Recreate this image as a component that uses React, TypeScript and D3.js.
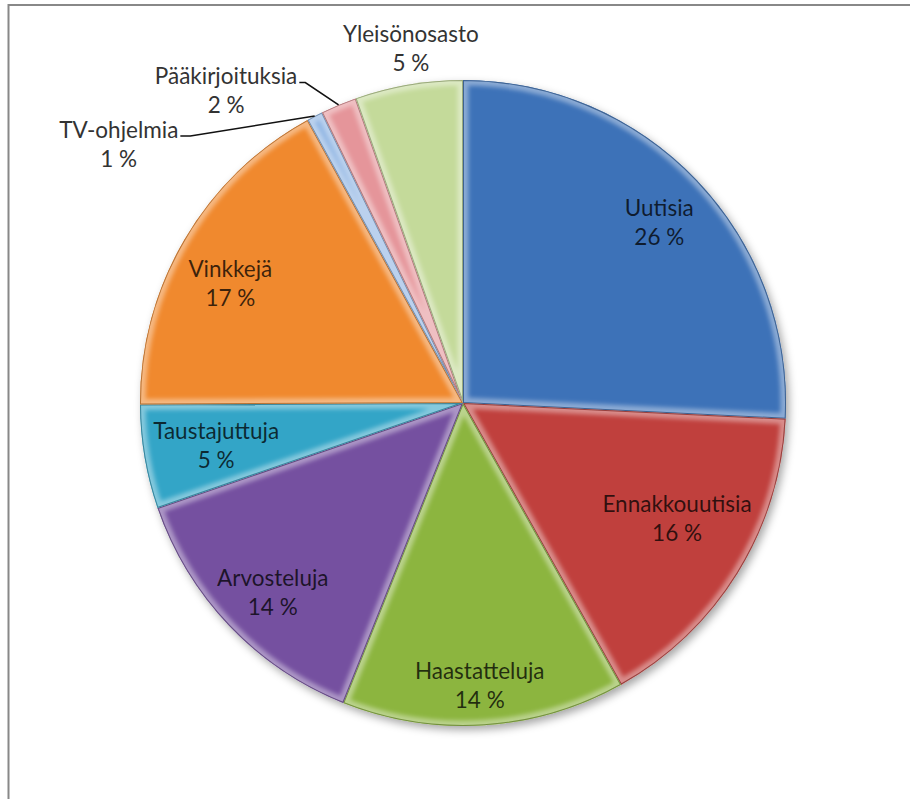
import React, { useEffect, useRef } from "react";
import * as d3 from "d3";

const categories = [
  "Uutisia",
  "Ennakkouutisia",
  "Haastatteluja",
  "Arvosteluja",
  "Taustajuttuja",
  "Vinkkejä",
  "TV-ohjelmia",
  "Pääkirjoituksia",
  "Yleisönosasto",
];
const values = [25.8, 16.1, 14.2, 13.7, 5.2, 17.1, 0.8, 1.8, 5.4];
const colors = [
  "#3d72b8",
  "#c0403d",
  "#8cb53f",
  "#7550a0",
  "#33a5c7",
  "#f0892e",
  "#8db3e2",
  "#e5959a",
  "#c4da9a",
];

// label placement (radius as fraction of pie radius)
const labelPlacement = [
  { inside: true, r: 0.823, da: 1.2 },
  { inside: true, r: 0.755, da: -3.1 },
  { inside: true, r: 0.879, da: 0.4 },
  { inside: true, r: 0.833, da: -1.4 },
  { inside: true, r: 0.776, da: -0.4 },
  { inside: true, r: 0.809, da: -3.4 },
  { inside: false, r: 1.331, a: 306.8, leader: true, hook: 10 },
  { inside: false, r: 1.2105, a: 322.7, leader: true, hook: 6 },
  { inside: false, r: 1.105, a: 351.6, leader: false, hook: 0 },
];

const W = 910;
const H = 799;
const CX = 463;
const CY = 403;
const R = 323;
const FONT = "Lato, 'Open Sans', sans-serif";
const FS = 22.5;

export default function App() {
  const ref = useRef<SVGSVGElement | null>(null);

  useEffect(() => {
    const svg = d3.select(ref.current);
    svg.selectAll("*").remove();

    const defs = svg.append("defs");
    const shadow = defs
      .append("filter")
      .attr("id", "shadow")
      .attr("x", "-20%")
      .attr("y", "-20%")
      .attr("width", "140%")
      .attr("height", "140%");
    shadow
      .append("feDropShadow")
      .attr("dx", 3)
      .attr("dy", 4)
      .attr("stdDeviation", 4)
      .attr("flood-color", "#000")
      .attr("flood-opacity", 0.35);
    const blur = defs.append("filter").attr("id", "blur");
    blur.append("feGaussianBlur").attr("stdDeviation", 2.2);

    // frame
    svg
      .append("rect")
      .attr("x", 8.5)
      .attr("y", 5)
      .attr("width", 1000)
      .attr("height", 1000)
      .attr("fill", "#fff")
      .attr("stroke", "#888")
      .attr("stroke-width", 2);

    const total = d3.sum(values);
    const pie = d3
      .pie<number>()
      .sort(null)
      .value((d) => d)
      .startAngle(0)
      .endAngle(2 * Math.PI);
    const arcs = pie(values);
    const arc = d3.arc<d3.PieArcDatum<number>>().innerRadius(0).outerRadius(R);

    const g = svg.append("g").attr("transform", `translate(${CX},${CY})`);
    const shadowG = g.append("g").attr("filter", "url(#shadow)");
    shadowG
      .selectAll("path")
      .data(arcs)
      .join("path")
      .attr("d", arc as any)
      .attr("fill", (_, i) => colors[i]);

    arcs.forEach((a, i) => {
      const id = `clip${i}`;
      defs.append("clipPath").attr("id", id).append("path").attr("d", arc(a) as string).attr("transform", `translate(${CX},${CY})`);
      const sg = svg.append("g").attr("clip-path", `url(#${id})`);
      const inner = sg.append("g").attr("transform", `translate(${CX},${CY})`);
      inner.append("path").attr("d", arc(a) as string).attr("fill", colors[i]);
      inner
        .append("path")
        .attr("d", arc(a) as string)
        .attr("fill", "none")
        .attr("stroke", "#fff")
        .attr("stroke-opacity", 0.4)
        .attr("stroke-width", 11)
        .attr("filter", "url(#blur)");
      inner
        .append("path")
        .attr("d", arc(a) as string)
        .attr("fill", "none")
        .attr("stroke", d3.color(colors[i])!.darker(1).formatHex())
        .attr("stroke-opacity", 0.8)
        .attr("stroke-width", 2);
    });

    const polar = (angDeg: number, r: number): [number, number] => {
      const t = (angDeg * Math.PI) / 180;
      return [CX + r * Math.sin(t), CY - r * Math.cos(t)];
    };

    const lg = svg.append("g").attr("font-family", FONT).attr("font-size", FS);
    arcs.forEach((a, i) => {
      const p = labelPlacement[i];
      const mid = ((a.startAngle + a.endAngle) / 2) * (180 / Math.PI);
      const ang = p.inside ? mid + (p.da || 0) : (p as any).a;
      const [x, y] = polar(ang, p.r * R);
      const pct = `${Math.round((values[i] / total) * 100)} %`;
      const b1 = y - 7.5;
      const t = lg
        .append("text")
        .attr("text-anchor", "middle")
        .attr("fill", p.inside ? "#000" : "#333")
        .attr("fill-opacity", p.inside ? 0.75 : 1);
      t.append("tspan").attr("x", x).attr("y", b1).text(categories[i]);
      t.append("tspan").attr("x", x).attr("y", b1 + 29).text(pct);

      if (!p.inside && (p as any).leader) {
        const node = t.select("tspan").node() as SVGTSpanElement;
        const bb = node.getBBox();
        const right = bb.x + bb.width;
        const ly = b1 - 2;
        const edge = polar(mid, R);
        svg
          .append("polyline")
          .attr(
            "points",
            [
              [right + 2, ly],
              [right + 2 + (p as any).hook, ly],
              edge,
            ]
              .map((q) => q.join(","))
              .join(" ")
          )
          .attr("fill", "none")
          .attr("stroke", "#111")
          .attr("stroke-width", 1.6);
      }
    });
  }, []);

  return (
    <svg
      ref={ref}
      width={W}
      height={H}
      style={{ position: "absolute", left: 0, top: 0, display: "block" }}
    />
  );
}
